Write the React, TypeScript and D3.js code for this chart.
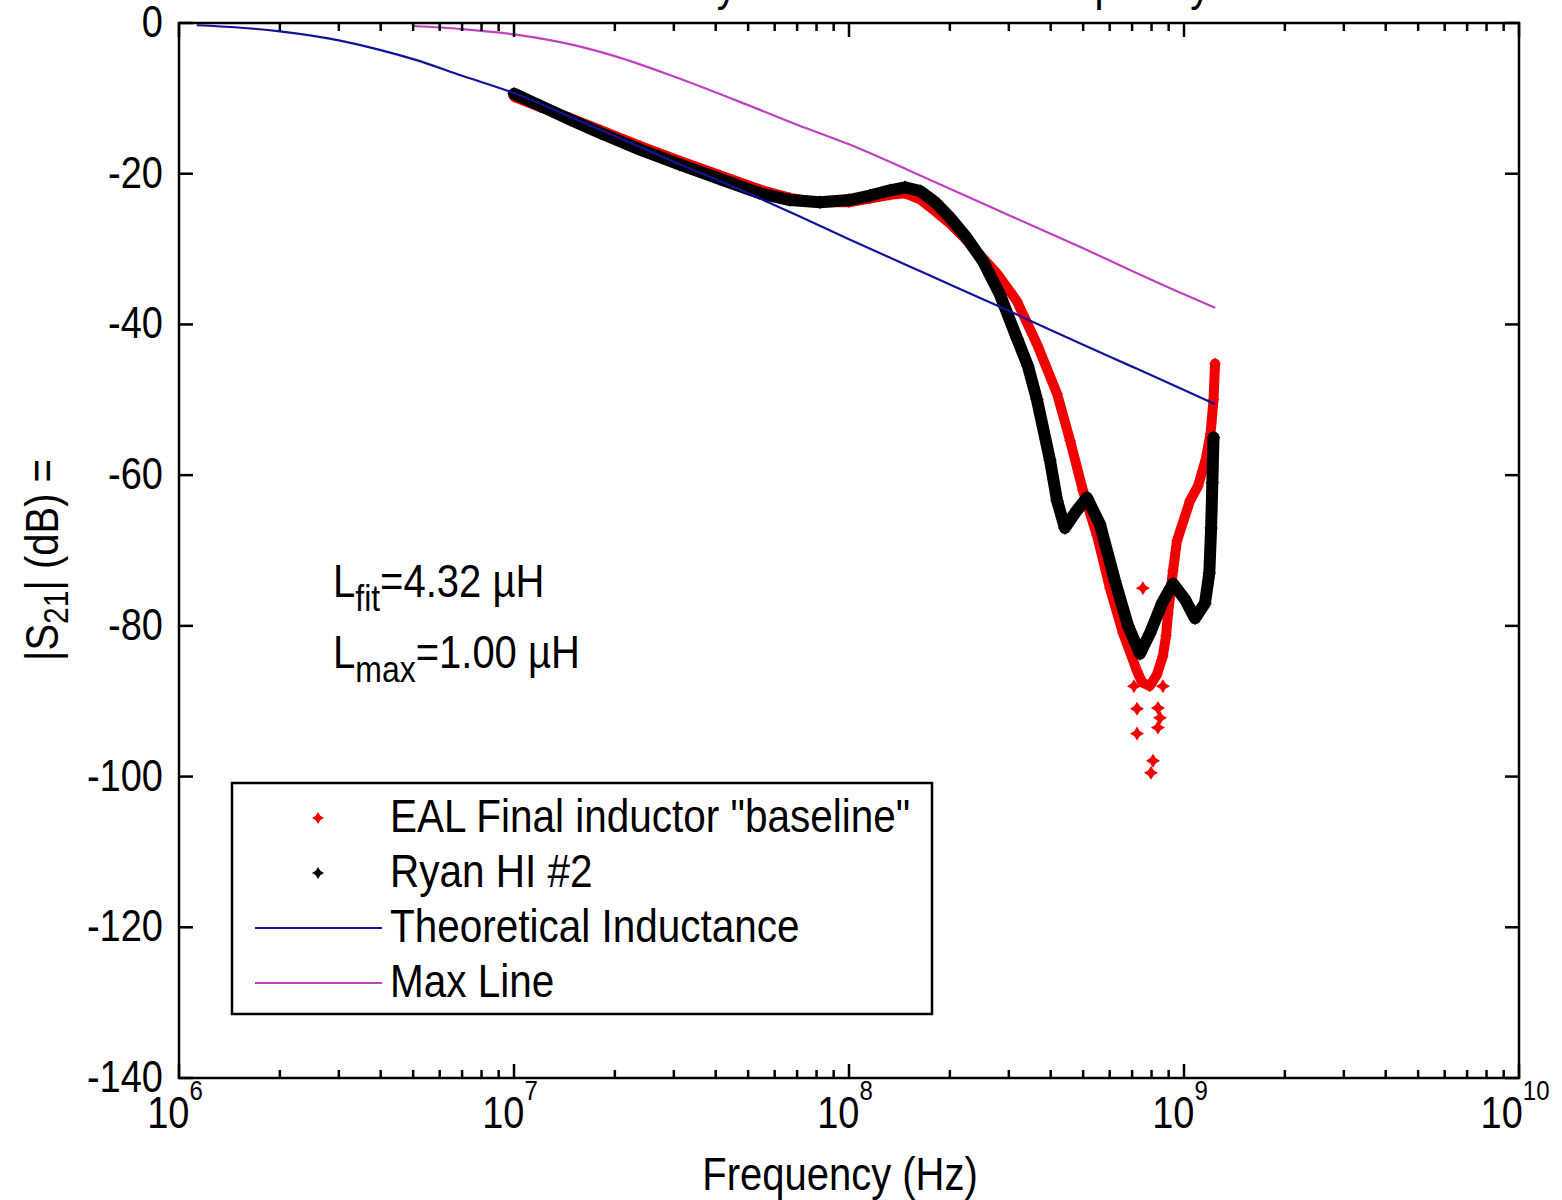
import React from 'react';
import * as d3 from 'd3';

// frequency (Hz) / |S21| (dB)
const ealFreq = [1.0e7, 1.2e7, 1.47e7, 1.81e7, 2.38e7, 3.13e7, 4.12e7, 5.42e7, 6.67e7, 8.19e7, 1.0e8, 1.155e8, 1.326e8, 1.47e8, 1.63e8, 1.81e8, 2.0e8, 2.22e8, 2.51e8, 2.77e8, 3.17e8, 3.64e8, 4.18e8, 4.57e8, 4.99e8, 5.5e8, 6.01e8, 6.58e8, 7.24e8, 7.5e8, 7.9e8, 8.3e8, 8.65e8, 8.84e8, 8.96e8, 9.27e8, 9.53e8, 1.042e9, 1.1e9, 1.16e9, 1.2e9, 1.225e9, 1.238e9];
const ealDb = [-9.8, -11.2, -12.6, -14.2, -16.3, -18.3, -20.2, -22.1, -23.2, -23.8, -23.8, -23.3, -22.8, -22.6, -23.4, -25.0, -26.6, -28.6, -31.2, -33.3, -36.9, -42.6, -49.2, -55.4, -62.0, -68.0, -75.0, -81.0, -86.0, -87.5, -88.0, -86.5, -84.0, -81.3, -78.4, -72.7, -68.7, -63.4, -61.5, -58.0, -54.5, -50.0, -45.2];
// scattered EAL points in the resonance dip
const ealOutFreq = [7.09e8, 8.65e8, 7.24e8, 8.36e8, 8.48e8, 8.36e8, 7.24e8, 8.08e8, 7.97e8, 7.54e8];
const ealOutDb = [-88, -88, -91, -90.9, -92.2, -93.5, -94.3, -97.9, -99.5, -75];

const ryanFreq = [1.0e7, 1.2e7, 1.47e7, 1.81e7, 2.38e7, 3.13e7, 4.12e7, 5.42e7, 6.67e7, 8.19e7, 1.0e8, 1.155e8, 1.326e8, 1.47e8, 1.63e8, 1.81e8, 2.0e8, 2.22e8, 2.51e8, 2.82e8, 3.17e8, 3.42e8, 3.64e8, 3.98e8, 4.18e8, 4.41e8, 4.73e8, 5.13e8, 5.61e8, 6.22e8, 6.81e8, 7.39e8, 7.91e8, 8.6e8, 9.27e8, 1.007e9, 1.079e9, 1.155e9, 1.19e9, 1.205e9, 1.215e9, 1.225e9];
const ryanDb = [-9.4, -11.0, -12.8, -14.6, -16.8, -18.8, -20.7, -22.6, -23.5, -23.8, -23.5, -22.9, -22.2, -21.8, -22.3, -23.8, -25.8, -28.2, -31.6, -36.0, -41.8, -45.5, -50.0, -58.0, -63.4, -67.0, -65.0, -63.0, -66.5, -74.0, -80.0, -83.7, -81.0, -77.0, -74.4, -76.5, -79.0, -77.0, -73.0, -67.0, -61.0, -55.0];

const theoFreq = [1.13e6, 1.5e6, 2e6, 3e6, 4e6, 5e6, 7e6, 1e7, 1.5e7, 2e7, 3e7, 5e7, 7e7, 1e8, 1.5e8, 2e8, 3e8, 5e8, 7e8, 1e9, 1.24e9];
const theoDb = [-0.3, -0.6, -1.1, -2.3, -3.6, -4.8, -7.0, -9.3, -12.6, -15.0, -18.4, -22.6, -25.5, -28.7, -32.2, -34.7, -38.2, -42.7, -45.6, -48.7, -50.6];

const maxFreq = [5e6, 7e6, 1e7, 1.5e7, 2e7, 3e7, 5e7, 7e7, 1e8, 1.5e8, 2e8, 3e8, 5e8, 7e8, 1e9, 1.24e9];
const maxDb = [-0.4, -0.8, -1.5, -2.9, -4.4, -7.1, -10.9, -13.5, -16.1, -19.5, -22.0, -25.5, -29.9, -32.9, -36.0, -37.8];

const xExps = [6, 7, 8, 9, 10];
const yTicks = [0, -20, -40, -60, -80, -100, -120, -140];
const legendLabels = ['EAL Final inductor "baseline"', 'Ryan HI #2', 'Theoretical Inductance', 'Max Line'];

const FONT = '"Liberation Sans", Arial, sans-serif';
const RED = '#f00000';
const BLUE = '#12129a';
const MAGENTA = '#c040c0';

const star = (r: number) => {
  const i = r * 0.38;
  return `M0,${-r}L${i},${-i}L${r},0L${i},${i}L0,${r}L${-i},${i}L${-r},0L${-i},${-i}Z`;
};

type P = [number, number];
const zip = (f: number[], v: number[]): P[] => f.map((d, i) => [d, v[i]]);

export default function App() {
  const left = 179, right = 1519, top = 23, bottom = 1078;
  const x = d3.scaleLog().domain([1e6, 1e10]).range([left, right]);
  const y = d3.scaleLinear().domain([-140, 0]).range([bottom, top]);

  const line = d3.line<P>().x(d => x(d[0])).y(d => y(d[1]));
  const smooth = d3.line<P>().x(d => x(d[0])).y(d => y(d[1])).curve(d3.curveMonotoneX);

  const minor: number[] = [];
  for (let e = 6; e < 10; e++) for (let k = 2; k <= 9; k++) minor.push(k * Math.pow(10, e));

  const eal = zip(ealFreq, ealDb);
  const ealOut = zip(ealOutFreq, ealOutDb);
  const ryan = zip(ryanFreq, ryanDb);
  const theo = zip(theoFreq, theoDb);
  const mx = zip(maxFreq, maxDb);

  const sy = 1.15;
  const T = (props: any) => {
    const { x: tx, y: ty, children, ...rest } = props;
    return (
      <text transform={`translate(${tx},${ty}) scale(1,${sy})`} fontFamily={FONT} fill="#000" {...rest}>
        {children}
      </text>
    );
  };

  const rowY = [818, 873, 928, 983];

  return (
    <svg width={1562} height={1200} style={{ position: 'absolute', left: 0, top: 0, background: '#fff' }}>
      <rect width={1562} height={1200} fill="#fff" />

      {/* title, cut off by the top edge in the original */}
      <T x={849} y={0} fontSize={40} textAnchor="middle">Inductor Array Attenuation vs. Frequency</T>

      {/* data */}
      <path d={line(eal) || ''} fill="none" stroke={RED} strokeWidth={10} strokeLinejoin="round" strokeLinecap="round" />
      {eal.map((d, i) => <path key={'e' + i} d={star(6)} transform={`translate(${x(d[0])},${y(d[1])})`} fill={RED} />)}
      {ealOut.map((d, i) => <path key={'o' + i} d={star(7)} transform={`translate(${x(d[0])},${y(d[1])})`} fill={RED} />)}
      <path d={line(ryan) || ''} fill="none" stroke="#000" strokeWidth={12} strokeLinejoin="round" strokeLinecap="round" />
      {ryan.map((d, i) => <path key={'r' + i} d={star(7)} transform={`translate(${x(d[0])},${y(d[1])})`} fill="#000" />)}
      <path d={smooth(theo) || ''} fill="none" stroke={BLUE} strokeWidth={2.2} />
      <path d={smooth(mx) || ''} fill="none" stroke={MAGENTA} strokeWidth={2.2} />

      {/* frame + ticks */}
      <rect x={left} y={top} width={right - left} height={bottom - top} fill="none" stroke="#000" strokeWidth={2.5} />
      {xExps.map(e => (
        <g key={'xm' + e}>
          <line x1={x(Math.pow(10, e))} x2={x(Math.pow(10, e))} y1={bottom} y2={bottom - 14} stroke="#000" strokeWidth={2.5} />
          <line x1={x(Math.pow(10, e))} x2={x(Math.pow(10, e))} y1={top} y2={top + 14} stroke="#000" strokeWidth={2.5} />
        </g>
      ))}
      {minor.map(v => (
        <g key={'xn' + v}>
          <line x1={x(v)} x2={x(v)} y1={bottom} y2={bottom - 8} stroke="#000" strokeWidth={2.5} />
          <line x1={x(v)} x2={x(v)} y1={top} y2={top + 8} stroke="#000" strokeWidth={2.5} />
        </g>
      ))}
      {yTicks.map(t => (
        <g key={'y' + t}>
          <line x1={left} x2={left + 14} y1={y(t)} y2={y(t)} stroke="#000" strokeWidth={2.5} />
          <line x1={right} x2={right - 14} y1={y(t)} y2={y(t)} stroke="#000" strokeWidth={2.5} />
          <T x={163} y={y(t) + 14} fontSize={38} textAnchor="end">{t}</T>
        </g>
      ))}
      {xExps.map(e => (
        <T key={'xl' + e} x={x(Math.pow(10, e)) - 4} y={1128} fontSize={38} textAnchor="middle">
          10<tspan dy={-24} fontSize={24}>{e}</tspan>
        </T>
      ))}

      {/* axis labels */}
      <T x={840} y={1190} fontSize={40} textAnchor="middle">Frequency (Hz)</T>
      <text transform={`translate(58,560) rotate(-90) scale(1,${sy})`} fontFamily={FONT} fontSize={40} textAnchor="middle">
        |S<tspan dy={9} fontSize={30}>21</tspan><tspan dy={-9}>| (dB) =</tspan>
      </text>

      {/* annotations */}
      <T x={333} y={597} fontSize={40}>
        L<tspan dy={12} fontSize={32}>fit</tspan><tspan dy={-12}>=4.32 µH</tspan>
      </T>
      <T x={333} y={668} fontSize={40}>
        L<tspan dy={12} fontSize={32}>max</tspan><tspan dy={-12}>=1.00 µH</tspan>
      </T>

      {/* legend */}
      <rect x={232} y={783} width={700} height={231} fill="#fff" stroke="#000" strokeWidth={2.5} />
      <path d={star(6)} transform={`translate(318,${rowY[0]})`} fill={RED} />
      <path d={star(6)} transform={`translate(318,${rowY[1]})`} fill="#000" />
      <line x1={255} x2={382} y1={rowY[2]} y2={rowY[2]} stroke={BLUE} strokeWidth={2.2} />
      <line x1={255} x2={382} y1={rowY[3]} y2={rowY[3]} stroke={MAGENTA} strokeWidth={2.2} />
      {legendLabels.map((l, i) => (
        <T key={l} x={390} y={rowY[i] + 14} fontSize={40.5}>{l}</T>
      ))}
    </svg>
  );
}
